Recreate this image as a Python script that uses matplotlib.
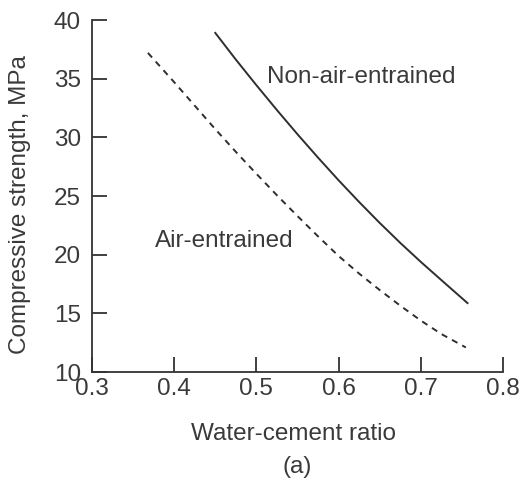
import matplotlib
matplotlib.use("Agg")
import matplotlib.pyplot as plt

plt.rcParams['font.family'] = ['Liberation Sans', 'DejaVu Sans']

# Non-air-entrained concrete
wc_non = [0.45, 0.475, 0.50, 0.525, 0.55, 0.575, 0.60, 0.625, 0.65, 0.675, 0.70, 0.725, 0.757]
fc_non = [38.9, 36.63, 34.45, 32.33, 30.27, 28.28, 26.35, 24.5, 22.72, 21.02, 19.4, 17.85, 15.88]
# Air-entrained concrete
wc_air = [0.368, 0.40, 0.425, 0.45, 0.475, 0.50, 0.525, 0.55, 0.575, 0.60, 0.625, 0.65, 0.675, 0.70, 0.725, 0.755]
fc_air = [37.2, 34.7, 32.7, 30.7, 28.77, 26.9, 25.07, 23.3, 21.57, 19.9, 18.4, 17.0, 15.67, 14.4, 13.25, 12.1]

xticks = [0.3, 0.4, 0.5, 0.6, 0.7, 0.8]
yticks = [10, 15, 20, 25, 30, 35, 40]

tc = '#3a3a3a'
fs = 17.5
fig = plt.figure(figsize=(5.2, 4.82), dpi=100)
ax = fig.add_axes([0.177, 0.228, 0.79, 0.7305])
ax.plot(wc_non, fc_non, color='#2e2e2e', lw=1.4)
ax.plot(wc_air, fc_air, color='#2e2e2e', lw=1.4, dashes=(3.2, 2.8))

ax.set_xlim(0.3, 0.8)
ax.set_ylim(10, 40)
ax.set_xticks(xticks)
ax.set_xticklabels([f"{v:.1f}" for v in xticks])
ax.set_yticks(yticks)
for s in ['top', 'right']:
    ax.spines[s].set_visible(False)
for s in ['left', 'bottom']:
    ax.spines[s].set_linewidth(1.3)
    ax.spines[s].set_color('#333333')
ax.tick_params(direction='in', length=10.5, width=1.3, color='#333333',
               labelsize=17.5, labelcolor=tc)
ax.tick_params(axis='x', pad=4)
ax.tick_params(axis='y', pad=8)

ax.text(0.5134, 34.63, 'Non-air-entrained', fontsize=fs, color=tc, va='baseline', ha='left')
ax.text(0.377, 20.65, 'Air-entrained', fontsize=fs, color=tc, va='baseline', ha='left')

ax.set_xlabel('Water-cement ratio', fontsize=fs, color=tc)
ax.xaxis.label.set_va('center')
ax.xaxis.set_label_coords(0.49, -(434 - 372) / 352)
ax.set_ylabel('Compressive strength, MPa', fontsize=fs, color=tc)
ax.yaxis.label.set_va('center')
ax.yaxis.set_label_coords(-(92 - 20) / 411, (372 - 205) / 352)

fig.text(297 / 520, 1 - 467 / 482, '(a)', fontsize=fs, color=tc, ha='center', va='center')

fig.savefig('out.png', dpi=100)
